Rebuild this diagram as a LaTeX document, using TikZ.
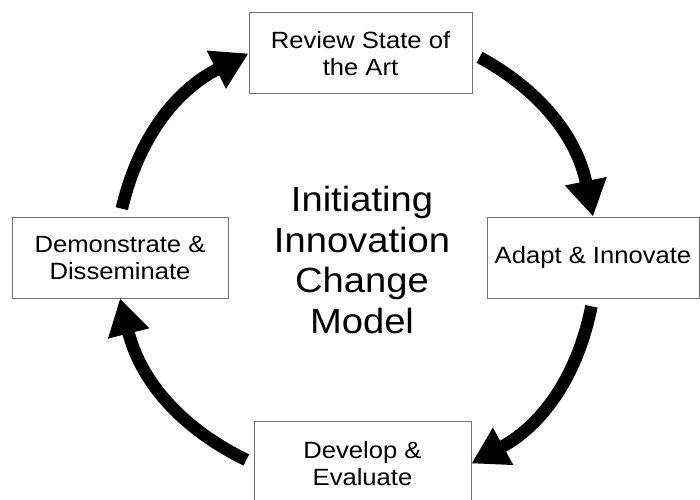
\documentclass[tikz,border=0pt]{standalone}
\usepackage{fontspec}
\setmainfont{Liberation Sans}[FakeStretch=1.09]
\usetikzlibrary{arrows.meta}
\tikzset{>={Triangle[length=36pt,width=40pt]}}

\begin{document}
\begin{tikzpicture}[x=1pt,y=1pt]

\tikzstyle{stage}=[draw=black!55,line width=1pt,minimum height=81pt,align=center,inner sep=0pt,font=\fontsize{23.5}{27}\selectfont]
\tikzstyle{cycle}=[->,line width=12.5pt,shorten <=8pt]

 \useasboundingbox (0,0) rectangle (700,499);

 \node[stage,minimum width=223pt] (review) at (360.5,445.5) {Review State of\\the Art};
 \node[stage,minimum width=212pt] (adapt) at (593,241.5) {Adapt \& Innovate};
 \node[stage,minimum width=217pt,minimum height=85pt] (develop) at (362.5,35.5) {Develop \&\\Evaluate};
 \node[stage,minimum width=216pt] (demo) at (120,241.5) {Demonstrate \&\\Disseminate};

 \node[align=center,inner sep=0pt,font=\fontsize{35}{40.5}\selectfont] (model) at (362,239) {Initiating\\Innovation\\Change\\Model};

 \draw[cycle] (review.east) to[bend left=25] (adapt.north);
 \draw[cycle] (adapt.south) to[bend left=25] (develop.east);
 \draw[cycle] (develop.west) to[bend left=25] (demo.south);
 \draw[cycle] (demo.north) to[bend left=25] (review.west);
\end{tikzpicture}
\end{document}
